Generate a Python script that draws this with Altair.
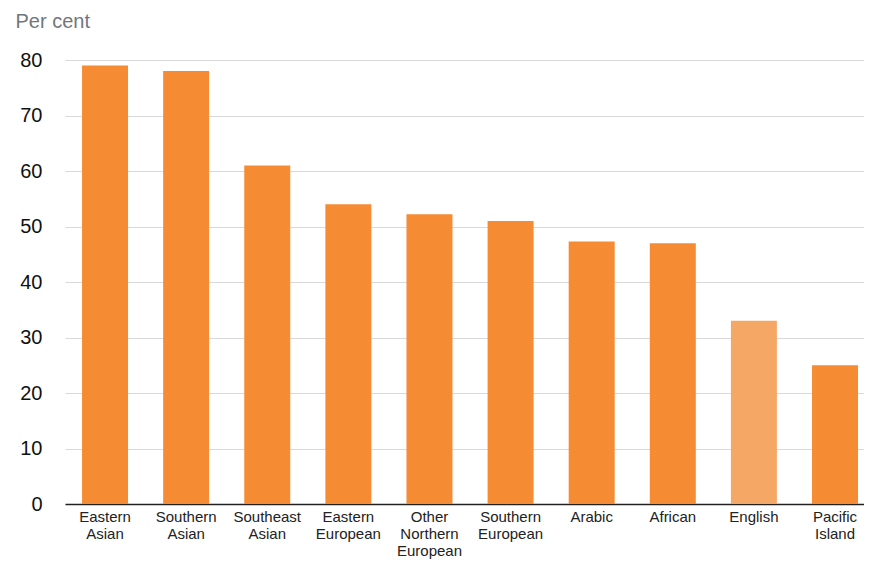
import altair as alt
import pandas as pd

categories = ["Eastern Asian", "Southern Asian", "Southeast Asian", "Eastern European",
              "Other Northern European", "Southern European", "Arabic", "African",
              "English", "Pacific Island"]
values = [79, 78, 61, 54, 52.2, 51, 47.3, 47, 33, 25]
groups = ["other"] * 8 + ["english", "other"]

df = pd.DataFrame({"cat": categories, "val": values, "grp": groups})

chart = alt.Chart(df).mark_bar().encode(
    x=alt.X("cat:N", sort=categories, title=None,
            scale=alt.Scale(paddingInner=0.433, paddingOuter=0.142, align=0.74),
            axis=alt.Axis(labelAngle=0, labelExpr="split(datum.label, ' ')",
                          labelFontSize=15, labelLineHeight=17, labelColor="#222222",
                          labelFont="Liberation Sans", labelPadding=5, labelBaseline="top",
                          ticks=False, domainColor="#222222", domainWidth=1.5,
                          labelLimit=200)),
    y=alt.Y("val:Q", scale=alt.Scale(domain=[0, 80], nice=False),
            axis=alt.Axis(values=[0, 10, 20, 30, 40, 50, 60, 70, 80], ticks=False, domain=False,
                          labelFontSize=20, labelColor="#111111", labelFont="Liberation Sans",
                          labelPadding=23, gridColor="#d9d9d9", gridWidth=1,
                          title="Per cent", titleAngle=0, titleAlign="left",
                          titleBaseline="alphabetic", titleX=-50, titleY=-33,
                          titleFontSize=20, titleFontWeight="normal", titleColor="#6f7780",
                          titleFont="Liberation Sans")),
    color=alt.Color("grp:N", scale=alt.Scale(domain=["other", "english"],
                                             range=["#f58b33", "#f5a866"]), legend=None),
).properties(
    width=799, height=444,
    autosize=alt.AutoSizeParams(type="none"),
    padding={"left": 57, "top": 52, "right": 0, "bottom": 59},
).configure_view(stroke=None)

chart.save("out.html", embed_options={"renderer": "svg", "actions": False})
